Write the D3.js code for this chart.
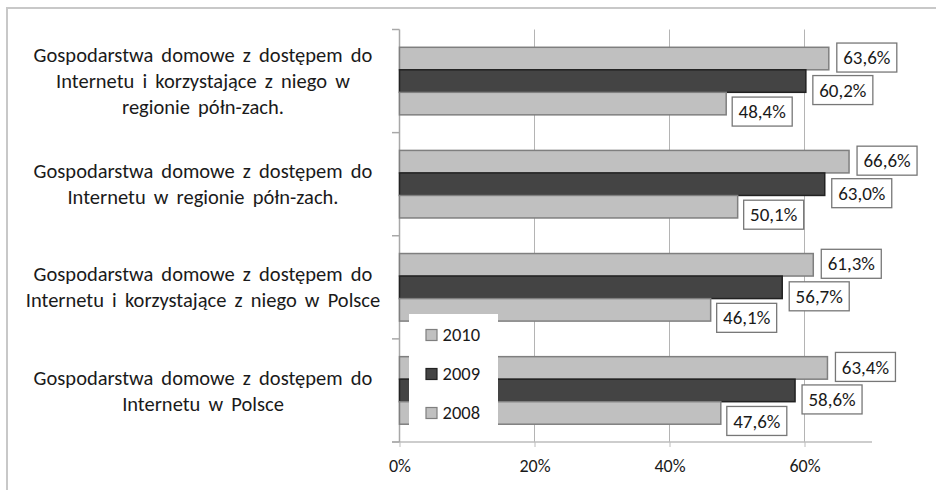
<!DOCTYPE html>
<html>
<head>
<meta charset="utf-8">
<script src="https://cdn.jsdelivr.net/npm/d3@7"></script>
<style>
  body { margin: 0; background: #fff; }
  svg text { font-family: Carlito, Calibri, Lato, sans-serif; fill: #1a1a1a; }
</style>
</head>
<body>
<div class="chart"></div>
<script>
// categories, top to bottom, each split into its printed lines
const categories = [
  ["Gospodarstwa domowe z dostępem do", "Internetu i korzystające z niego w", "regionie półn-zach."],
  ["Gospodarstwa domowe z dostępem do", "Internetu w regionie półn-zach."],
  ["Gospodarstwa domowe z dostępem do", "Internetu i korzystające z niego w Polsce"],
  ["Gospodarstwa domowe z dostępem do", "Internetu w Polsce"]
];
const series = ["2010", "2009", "2008"];
const values2010 = [63.6, 66.6, 61.3, 63.4];
const values2009 = [60.2, 63.0, 56.7, 58.6];
const values2008 = [48.4, 50.1, 46.1, 47.6];
const xTicks = [0, 20, 40, 60];

const valuesBySeries = { "2010": values2010, "2009": values2009, "2008": values2008 };
const fills = { "2010": "#c0c0c0", "2009": "#444444", "2008": "#c0c0c0" };
const strokes = { "2010": "#7f7f7f", "2009": "#222222", "2008": "#7f7f7f" };
// label box nudges per series (Excel moved them to avoid overlaps)
const nudge = { "2010": [8, -1], "2009": [7, 9], "2008": [6, 8] };

const W = 936, H = 490;
const plot = { left: 399.5, right: 872, top: 29.5, bottom: 442 };

const svg = d3.select(".chart").append("svg")
  .attr("width", W).attr("height", H);

// outer frame
svg.append("path")
  .attr("d", "M7," + H + " V8 H" + W)
  .attr("fill", "none").attr("stroke", "#c8c8c8").attr("stroke-width", 2);

const x = d3.scaleLinear().domain([0, 70]).range([plot.left, plot.right]);
const y0 = d3.scaleBand().domain(d3.range(categories.length))
  .range([plot.top, plot.bottom]).padding(0);
const y1 = d3.scaleBand().domain(series)
  .range([0, y0.bandwidth()]).paddingInner(0).paddingOuter(0.79);

// gridlines
svg.append("g").selectAll("line")
  .data(xTicks.filter(d => d > 0))
  .enter().append("line")
  .attr("x1", d => x(d)).attr("x2", d => x(d))
  .attr("y1", plot.top).attr("y2", plot.bottom)
  .attr("stroke", "#b4b4b4").attr("stroke-width", 1);

// x axis
const xAxis = d3.axisBottom(x).tickValues(xTicks).tickSize(5).tickPadding(12)
  .tickFormat(d => d + "%");
svg.append("g")
  .attr("transform", "translate(0," + plot.bottom + ")")
  .call(xAxis)
  .call(g => g.select(".domain").remove())
  .call(g => g.selectAll(".tick line").attr("stroke", "#bcbcbc"))
  .call(g => g.selectAll(".tick text").attr("font-size", 18).attr("fill", "#1a1a1a")
    .style("font-family", "Carlito, Calibri, Lato, sans-serif"));
svg.append("line")
  .attr("x1", plot.left - 7.5).attr("x2", plot.right)
  .attr("y1", plot.bottom).attr("y2", plot.bottom)
  .attr("stroke", "#bcbcbc").attr("stroke-width", 1.5);

// y axis line with category boundary ticks
svg.append("line")
  .attr("x1", plot.left).attr("x2", plot.left)
  .attr("y1", plot.top).attr("y2", plot.bottom)
  .attr("stroke", "#a8a8a8").attr("stroke-width", 1.5);
svg.append("g").selectAll("line")
  .data(d3.range(categories.length + 1))
  .enter().append("line")
  .attr("x1", plot.left - 7.5).attr("x2", plot.left)
  .attr("y1", i => plot.top + i * y0.step()).attr("y2", i => plot.top + i * y0.step())
  .attr("stroke", "#a8a8a8").attr("stroke-width", 1.5);

// category labels
const lineH = 26;
svg.append("g").selectAll("text")
  .data(categories)
  .enter().append("text")
  .attr("text-anchor", "middle")
  .attr("font-size", 20.5)
  .attr("word-spacing", 3.5)
  .each(function(lines, i) {
    const cy = y0(i) + y0.bandwidth() / 2;
    const first = cy - (lines.length - 1) * lineH / 2;
    d3.select(this).selectAll("tspan")
      .data(lines).enter().append("tspan")
      .attr("x", 203)
      .attr("y", (d, j) => first + j * lineH)
      .attr("dy", "0.35em")
      .text(d => d);
  });

// bars
const rows = [];
categories.forEach((c, i) => {
  series.forEach(s => rows.push({ cat: i, s: s, v: valuesBySeries[s][i] }));
});

const groups = svg.append("g").selectAll("g")
  .data(rows).enter().append("g");

groups.append("rect")
  .attr("x", x(0))
  .attr("y", d => y0(d.cat) + y1(d.s))
  .attr("width", d => x(d.v) - x(0))
  .attr("height", y1.bandwidth())
  .attr("fill", d => fills[d.s])
  .attr("stroke", d => strokes[d.s])
  .attr("stroke-width", 1.5);

// value labels in boxes
const fmt = v => d3.format(".1f")(v).replace(".", ",") + "%";
const labels = svg.append("g").selectAll("g")
  .data(rows).enter().append("g")
  .attr("transform", d => {
    const n = nudge[d.s];
    return "translate(" + (x(d.v) + n[0]) + "," + (y0(d.cat) + y1(d.s) + y1.bandwidth() / 2 + n[1]) + ")";
  });
labels.append("rect")
  .attr("x", 0).attr("y", -14.5)
  .attr("width", 60).attr("height", 29)
  .attr("fill", "#fff").attr("stroke", "#777").attr("stroke-width", 1.3);
labels.append("text")
  .attr("x", 30).attr("y", 0).attr("dy", "0.35em")
  .attr("text-anchor", "middle")
  .attr("font-size", 19)
  .text(d => fmt(d.v));

// legend
const legend = svg.append("g").attr("transform", "translate(409,314)");
legend.append("rect")
  .attr("width", 89).attr("height", 111)
  .attr("fill", "#fff");
const items = legend.selectAll("g.item")
  .data(series).enter().append("g")
  .attr("class", "item")
  .attr("transform", (d, i) => "translate(17," + (21 + i * 39) + ")");
items.append("rect")
  .attr("x", 0).attr("y", -5.5)
  .attr("width", 11).attr("height", 11)
  .attr("fill", d => fills[d])
  .attr("stroke", d => strokes[d]).attr("stroke-width", 1.2);
items.append("text")
  .attr("x", 16.5).attr("y", 0).attr("dy", "0.35em")
  .attr("font-size", 18.5)
  .text(d => d);
</script>
</body>
</html>
